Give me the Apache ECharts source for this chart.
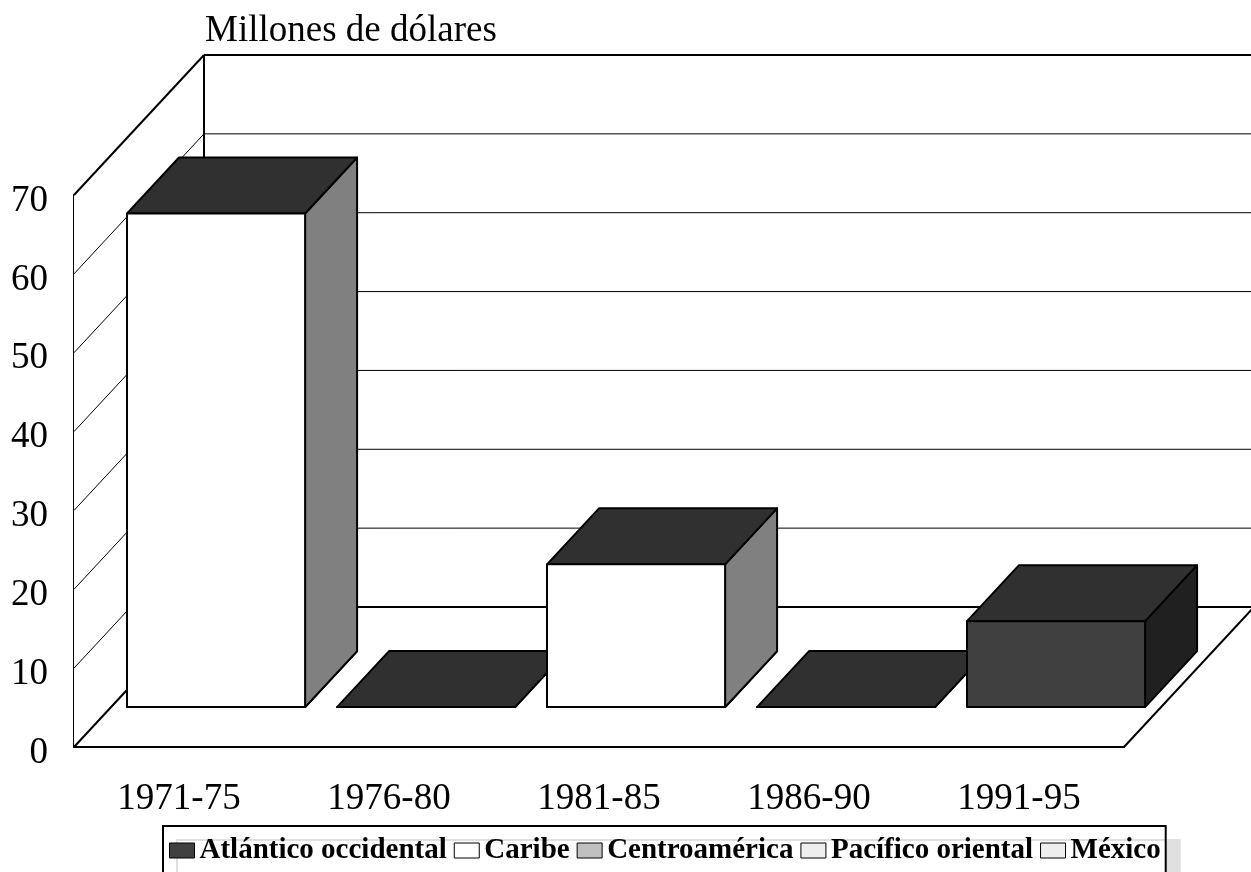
<!DOCTYPE html>
<html><head><meta charset="utf-8">
<script src="https://cdn.jsdelivr.net/npm/echarts@6/dist/echarts.min.js"></script>
<style>html,body{margin:0;padding:0;background:#fff}#chart{width:1251px;height:872px}</style>
</head><body><div id="chart"></div>
<script>
// ---- data ----
const categories = ['1971-75', '1976-80', '1981-85', '1986-90', '1991-95'];
const seriesNames = ['Atlántico occidental', 'Caribe', 'Centroamérica', 'Pacífico oriental', 'México'];
const atlanticoOccidental = [0, 0, 0, 0, 10.9];
const caribe = [62.6, 0, 18.1, 0, 0];
const centroamerica = [0, 0, 0, 0, 0];
const pacificoOriental = [0, 0, 0, 0, 0];
const mexico = [0, 0, 0, 0, 0];
const yTicks = [0, 10, 20, 30, 40, 50, 60, 70];
const axisTitle = 'Millones de dólares';

// ---- styles / layout ----
const FONT = "'Liberation Serif','Times New Roman',serif";
const DEPTH = [130, -140];        // floor depth vector (px)
const BAR_FRONT = 0.285, BAR_BACK = 0.685, BAR_RATIO = 0.848;
const styles = [
  { legend: '#404040', front: '#404040', side: '#202020', top: '#303030' },
  { legend: '#ffffff', front: '#ffffff', side: '#808080', top: '#303030' },
  { legend: '#c0c0c0', front: '#c0c0c0', side: '#606060', top: '#303030' },
  { legend: '#eeeeee', front: '#eeeeee', side: '#777777', top: '#303030' },
  { legend: '#eeeeee', front: '#eeeeee', side: '#777777', top: '#303030' }
];
const allSeries = [atlanticoOccidental, caribe, centroamerica, pacificoOriental, mexico];

function line(p1, p2, w, c) {
  return { type: 'line', shape: { x1: p1[0], y1: p1[1], x2: p2[0], y2: p2[1] },
           style: { stroke: c || '#000', lineWidth: w } };
}
function poly(pts, fill, w) {
  return { type: 'polygon', shape: { points: pts },
           style: { fill: fill, stroke: '#000', lineWidth: w == null ? 2 : w, lineJoin: 'round' } };
}

function renderWalls(params, api) {
  const cs = params.coordSys;
  const x0 = cs.x, x1 = cs.x + cs.width;
  const [dx, dy] = DEPTH;
  const yb = api.coord([0, yTicks[0]])[1];
  const yt = api.coord([0, yTicks[yTicks.length - 1]])[1];
  const ch = [];
  ch.push({ type: 'polygon', shape: { points: [[x0 + dx, yt + dy], [x1 + dx, yt + dy], [x1 + dx, yb + dy], [x0 + dx, yb + dy]] }, style: { fill: '#fff' } });
  ch.push({ type: 'polygon', shape: { points: [[x0, yb], [x0, yt], [x0 + dx, yt + dy], [x0 + dx, yb + dy]] }, style: { fill: '#fff' } });
  yTicks.forEach(function (v, i) {
    if (i === 0) return;
    const y = api.coord([0, v])[1];
    const last = i === yTicks.length - 1;
    ch.push(line([x0 + dx, y + dy], [x1 + dx + 5, y + dy], last ? 2 : 1, '#000'));
    if (!last) ch.push(line([x0, y], [x0 + dx, y + dy], 1, '#000'));
  });
  ch.push(line([x0 + dx, yt + dy], [x0 + dx, yb + dy], 2));
  ch.push(line([x0, yt], [x0 + dx, yt + dy], 2));
  ch.push(poly([[x0, yb], [x1, yb], [x1 + dx, yb + dy], [x0 + dx, yb + dy]], '#fff', 2));
  return { type: 'group', children: ch };
}

function makeBarRenderer(sIdx) {
  return function (params, api) {
    const cat = api.value(0);
    const val = api.value(1);
    if (sIdx > 0 && !(val > 0)) return;
    let base = 0;
    for (let k = 0; k < sIdx; k++) base += allSeries[k][params.dataIndex];
    const pb = api.coord([cat, base]);
    const pt = api.coord([cat, base + val]);
    const band = api.size([1, 0])[0];
    const w = band * BAR_RATIO;
    const [dx, dy] = DEPTH;
    const fx = pb[0] - w / 2 + dx * BAR_FRONT;
    const fy0 = pb[1] + dy * BAR_FRONT;
    const fy1 = pt[1] + dy * BAR_FRONT;
    const bdx = dx * (BAR_BACK - BAR_FRONT), bdy = dy * (BAR_BACK - BAR_FRONT);
    const st = styles[sIdx];
    return { type: 'group', children: [
      poly([[fx + w, fy0], [fx + w + bdx, fy0 + bdy], [fx + w + bdx, fy1 + bdy], [fx + w, fy1]], st.side, 2),
      poly([[fx, fy1], [fx + w, fy1], [fx + w + bdx, fy1 + bdy], [fx + bdx, fy1 + bdy]], st.top, 2),
      poly([[fx, fy1], [fx + w, fy1], [fx + w, fy0], [fx, fy0]], st.front, 2)
    ] };
  };
}

const series = [{
  type: 'custom', name: '__walls', z: 1, clip: false, silent: true,
  renderItem: renderWalls, data: [[0, 0]]
}];
seriesNames.forEach(function (name, i) {
  series.push({
    type: 'custom', name: name, z: 3, clip: false,
    itemStyle: { color: styles[i].legend, borderColor: '#000', borderWidth: 1 },
    renderItem: makeBarRenderer(i),
    data: allSeries[i].map(function (v, j) { return [j, v]; })
  });
});

const chart = echarts.init(document.getElementById('chart'), null, { renderer: 'canvas' });
chart.setOption({
  animation: false,
  backgroundColor: '#fff',
  title: { text: axisTitle, left: 200, top: 8,
           textStyle: { fontFamily: FONT, fontSize: 37, fontWeight: 'normal', color: '#000' } },
  grid: { left: 74, right: 127, top: 195, bottom: 125 },
  xAxis: { type: 'category', data: categories,
           axisLine: { show: true, lineStyle: { color: '#000', width: 2 } },
           axisTick: { show: false },
           axisLabel: { fontFamily: FONT, fontSize: 37, color: '#000', margin: 34 } },
  yAxis: { type: 'value', min: 0, max: 70, interval: 10,
           axisLine: { show: true, lineStyle: { color: '#000', width: 2 } },
           axisTick: { show: false }, splitLine: { show: false },
           axisLabel: { margin: 26, formatter: '{a|{value}}',
                        rich: { a: { fontFamily: FONT, fontSize: 37, color: '#000', padding: [12, 0, 0, 0] } } } },
  legend: {
    data: seriesNames.map(function (n, i) { return { name: n, icon: 'rect', itemStyle: { color: styles[i].legend, borderColor: '#000', borderWidth: 1 } }; }),
    left: 163, top: 826, itemWidth: 25, itemHeight: 15, itemGap: 7,
    padding: [10, 5, 10, 6],
    backgroundColor: '#fff', borderColor: '#000', borderWidth: 2,
    shadowColor: '#e0e0e0', shadowOffsetX: 14, shadowOffsetY: 14, shadowBlur: 0,
    textStyle: { fontFamily: FONT, fontSize: 29, fontWeight: 'bold', color: '#000' }
  },
  series: series
});
</script></body></html>
